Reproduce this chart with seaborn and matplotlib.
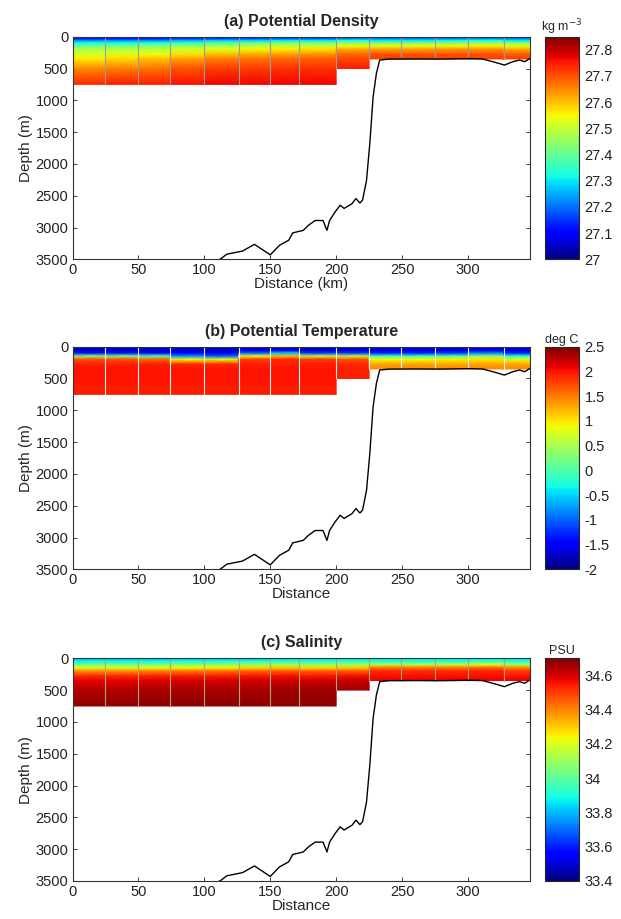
import numpy as np
import matplotlib
matplotlib.use("Agg")
import matplotlib.pyplot as plt
import seaborn as sns
from matplotlib.ticker import FormatStrFormatter

# ---------------- data ----------------
station_km = [0, 25, 50, 74, 100, 126, 150, 172, 200, 225, 249, 275, 300, 327, 347]
depth_levels_m = [0, 30, 60, 100, 150, 200, 275, 350, 500, 750]
column_bottom_m = [750, 750, 750, 750, 750, 750, 750, 750, 500, 350, 350, 350, 350, 350]

nan = np.nan
sigma_theta = [
    [27.02, 27.12, 27.22, 27.32, 27.41, 27.48, 27.52, 27.56, 27.65, 27.74],
    [27.03, 27.12, 27.22, 27.32, 27.42, 27.48, 27.53, 27.58, 27.66, 27.75],
    [27.03, 27.12, 27.22, 27.33, 27.43, 27.49, 27.54, 27.60, 27.67, 27.75],
    [27.04, 27.14, 27.25, 27.35, 27.45, 27.51, 27.57, 27.63, 27.70, 27.76],
    [27.05, 27.15, 27.27, 27.38, 27.47, 27.53, 27.60, 27.66, 27.72, 27.77],
    [27.05, 27.16, 27.28, 27.40, 27.49, 27.55, 27.62, 27.67, 27.72, 27.77],
    [27.06, 27.17, 27.30, 27.42, 27.50, 27.56, 27.63, 27.68, 27.73, 27.77],
    [27.06, 27.17, 27.30, 27.42, 27.50, 27.57, 27.64, 27.69, 27.73, 27.77],
    [27.08, 27.20, 27.32, 27.44, 27.54, 27.62, 27.68, 27.71, 27.75, nan],
    [27.08, 27.20, 27.30, 27.42, 27.54, 27.63, 27.70, 27.72, nan, nan],
    [27.08, 27.20, 27.30, 27.42, 27.54, 27.63, 27.70, 27.72, nan, nan],
    [27.08, 27.20, 27.31, 27.43, 27.55, 27.64, 27.70, 27.72, nan, nan],
    [27.08, 27.21, 27.32, 27.44, 27.56, 27.64, 27.70, 27.72, nan, nan],
    [27.08, 27.20, 27.30, 27.42, 27.54, 27.62, 27.69, 27.72, nan, nan],
]
theta = [
    [-1.75, -1.72, -1.65, -1.40, 0.30, 1.70, 1.95, 2.00, 2.00, 1.95],
    [-1.75, -1.72, -1.65, -1.40, 0.20, 1.70, 1.95, 2.00, 2.00, 1.95],
    [-1.75, -1.72, -1.65, -1.45, 0.00, 1.60, 1.95, 2.00, 2.00, 1.95],
    [-1.75, -1.72, -1.68, -1.50, -0.80, 0.90, 1.90, 2.00, 2.00, 1.95],
    [-1.75, -1.72, -1.68, -1.55, -1.00, 0.80, 1.90, 2.00, 2.00, 1.95],
    [-1.75, -1.70, -1.60, -1.00, 0.80, 1.80, 1.95, 2.00, 2.00, 1.95],
    [-1.75, -1.70, -1.55, -0.60, 1.20, 1.90, 1.95, 2.00, 2.00, 1.95],
    [-1.75, -1.72, -1.65, -1.20, 0.60, 1.80, 1.95, 2.00, 2.00, 1.95],
    [-1.75, -1.72, -1.62, -1.20, 0.60, 1.70, 1.90, 1.95, 1.95, nan],
    [-1.75, -1.72, -1.60, -1.30, -0.10, 0.90, 1.30, 1.45, nan, nan],
    [-1.75, -1.72, -1.60, -1.30, -0.10, 0.90, 1.30, 1.45, nan, nan],
    [-1.75, -1.72, -1.58, -1.20, 0.00, 0.95, 1.30, 1.45, nan, nan],
    [-1.75, -1.70, -1.50, -0.90, 0.30, 1.00, 1.30, 1.45, nan, nan],
    [-1.75, -1.72, -1.60, -1.30, -0.20, 0.80, 1.30, 1.45, nan, nan],
]
salinity = [
    [33.80, 33.84, 33.90, 34.02, 34.20, 34.38, 34.52, 34.58, 34.64, 34.68],
    [33.80, 33.84, 33.90, 34.02, 34.20, 34.38, 34.52, 34.58, 34.64, 34.68],
    [33.81, 33.85, 33.91, 34.03, 34.22, 34.40, 34.53, 34.59, 34.65, 34.68],
    [33.82, 33.86, 33.93, 34.05, 34.24, 34.41, 34.54, 34.60, 34.65, 34.68],
    [33.82, 33.86, 33.94, 34.06, 34.25, 34.42, 34.54, 34.60, 34.65, 34.68],
    [33.82, 33.86, 33.95, 34.08, 34.28, 34.44, 34.55, 34.61, 34.65, 34.68],
    [33.83, 33.87, 33.96, 34.10, 34.30, 34.45, 34.56, 34.61, 34.66, 34.68],
    [33.83, 33.87, 33.95, 34.08, 34.28, 34.44, 34.55, 34.61, 34.66, 34.68],
    [33.84, 33.88, 33.96, 34.10, 34.30, 34.45, 34.56, 34.62, 34.66, nan],
    [33.86, 33.88, 33.92, 34.15, 34.42, 34.52, 34.56, 34.58, nan, nan],
    [33.86, 33.88, 33.92, 34.15, 34.42, 34.52, 34.56, 34.58, nan, nan],
    [33.86, 33.88, 33.93, 34.16, 34.42, 34.52, 34.56, 34.58, nan, nan],
    [33.86, 33.89, 33.95, 34.20, 34.44, 34.53, 34.56, 34.58, nan, nan],
    [33.86, 33.88, 33.92, 34.12, 34.40, 34.50, 34.55, 34.58, nan, nan],
]

bathy_km = [109, 112, 117, 129, 138, 150, 157, 164, 167, 175, 179, 184, 190, 193,
            195, 199, 203, 206, 212, 215, 218, 220, 223, 225.5, 228, 230.5, 233,
            240, 260, 280, 300, 311, 320, 327.6, 334, 339, 343, 347]
bathy_depth_m = [3520, 3500, 3420, 3370, 3265, 3430, 3280, 3200, 3085, 3045, 2965,
                 2890, 2890, 3045, 2890, 2760, 2650, 2700, 2625, 2545, 2615, 2570,
                 2260, 1680, 945, 577, 367, 352, 350, 352, 345, 350, 400, 446, 393,
                 367, 393, 340]

x_ticks = [0, 50, 100, 150, 200, 250, 300]
y_ticks = [0, 500, 1000, 1500, 2000, 2500, 3000, 3500]
sigma_ticks = [27.0, 27.1, 27.2, 27.3, 27.4, 27.5, 27.6, 27.7, 27.8]
theta_ticks = [-2, -1.5, -1, -0.5, 0, 0.5, 1, 1.5, 2, 2.5]
salt_ticks = [33.4, 33.6, 33.8, 34.0, 34.2, 34.4, 34.6]

titles = ["(a) Potential Density", "(b) Potential Temperature", "(c) Salinity"]
x_labels = ["Distance (km)", "Distance", "Distance"]
cbar_labels = ["kg m$^{-3}$", "deg C", "PSU"]
color_ranges = [(27.0, 27.85), (-2.0, 2.5), (33.4, 34.7)]

# ---------------- styling / layout ----------------
sns.set_theme(style="ticks")
plt.rcParams["font.family"] = ["Liberation Sans", "DejaVu Sans"]

W, H = 621, 919
fig = plt.figure(figsize=(W / 100, H / 100), dpi=100)

ax_left, ax_right = 72.5, 530
cb_left, cb_right = 545, 579
panel_tops = [36.7, 346.7, 658.3]
panel_h = 222.6
station_line_colors = ["#9c9c9c", "#f2f2f2", "#a7a77a"]

fields = [sigma_theta, theta, salinity]
tick_sets = [sigma_ticks, theta_ticks, salt_ticks]

for p in range(3):
    top = panel_tops[p]
    bottom_frac = 1 - (top + panel_h) / H
    ax = fig.add_axes([ax_left / W, bottom_frac, (ax_right - ax_left) / W, panel_h / H])
    vmin, vmax = color_ranges[p]
    table = fields[p]
    mesh = None
    for i in range(len(station_km) - 1):
        prof = np.array(table[i], dtype=float)
        valid = ~np.isnan(prof)
        d = np.array(depth_levels_m, dtype=float)[valid]
        X = np.column_stack([np.full(len(d), station_km[i]), np.full(len(d), station_km[i + 1])])
        Y = np.column_stack([d, d])
        C = np.column_stack([prof[valid], prof[valid]])
        mesh = ax.pcolormesh(X, Y, C, shading="gouraud", cmap="jet", vmin=vmin, vmax=vmax)
    for i in range(1, len(station_km) - 1):
        ax.plot([station_km[i], station_km[i]],
                [0, min(column_bottom_m[i - 1], column_bottom_m[i])],
                color=station_line_colors[p], lw=0.8)
    sns.lineplot(x=bathy_km, y=bathy_depth_m, ax=ax, color="black", lw=1.0,
                 estimator=None, sort=False, legend=False)
    ax.set_xlim(0, 347)
    ax.set_ylim(3500, 0)
    ax.set_xticks(x_ticks)
    ax.set_yticks(y_ticks)
    ax.tick_params(direction="in", top=True, right=True, length=3, width=0.6,
                   labelsize=10.5, pad=3, colors="#222222")
    for s in ax.spines.values():
        s.set_linewidth(0.8)
        s.set_color("#333333")
    ax.set_title(titles[p], fontsize=11.5, fontweight="bold", pad=8)
    ax.set_xlabel(x_labels[p], fontsize=11, labelpad=0)
    ax.set_ylabel("Depth (m)", fontsize=11, labelpad=2)

    cax = fig.add_axes([cb_left / W, bottom_frac, (cb_right - cb_left) / W, panel_h / H])
    cb = fig.colorbar(mesh, cax=cax, ticks=tick_sets[p])
    cb.ax.yaxis.set_major_formatter(FormatStrFormatter("%g"))
    cb.ax.tick_params(direction="in", length=2, width=0.5, labelsize=10.5, pad=4,
                      colors="#222222")
    cb.outline.set_linewidth(0.8)
    cax.set_title(cbar_labels[p], fontsize=9, pad=3)

fig.savefig("out.png", dpi=100)
